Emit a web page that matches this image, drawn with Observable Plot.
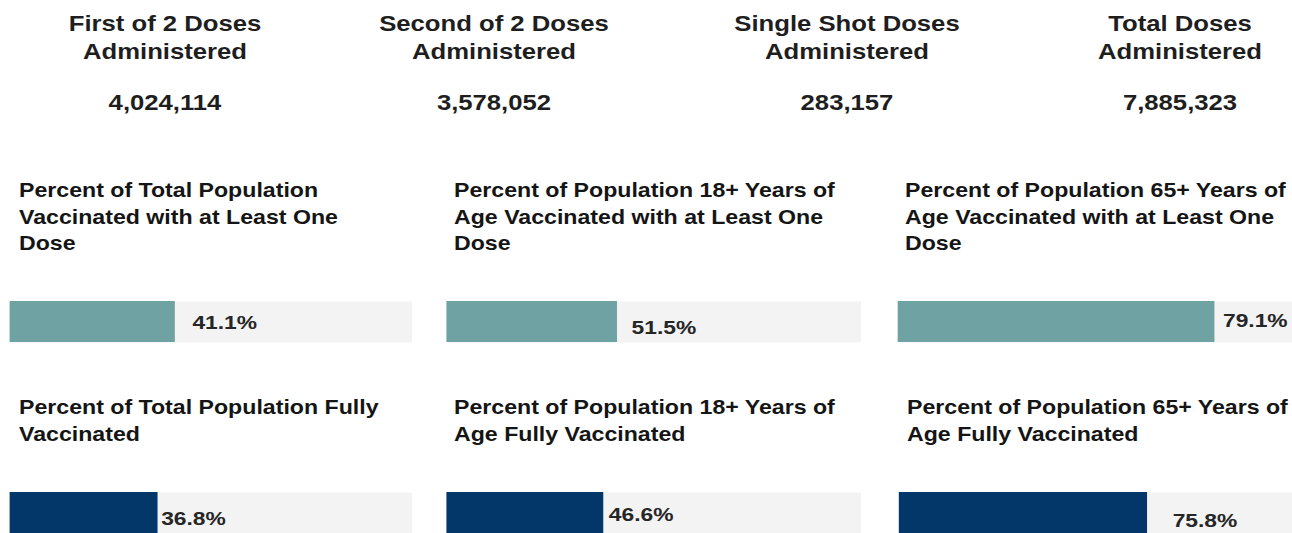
<!DOCTYPE html>
<html><head><meta charset="utf-8">
<script src="https://cdn.jsdelivr.net/npm/d3@7"></script>
<script src="https://cdn.jsdelivr.net/npm/@observablehq/plot@0.6"></script>
<style>
html,body{margin:0;padding:0;background:#fff;overflow:hidden;width:1292px;height:533px;}
#stage{position:absolute;left:0;top:0;width:1076.67px;height:533px;transform:scaleX(1.2);transform-origin:0 0;font-family:"Liberation Sans",Arial,sans-serif;}
.kpi{position:absolute;transform:translateX(-50%);text-align:center;font-weight:bold;font-size:21.4px;line-height:28px;color:#1e1e1e;white-space:pre;}
.ptitle{position:absolute;font-weight:bold;font-size:19.3px;line-height:26.5px;color:#151515;white-space:pre;}
.bar{position:absolute;}
.bar svg{display:block;overflow:visible;}
</style></head><body><div id="stage"></div>
<script>
// ---- data ----
const kpiTitles = ["First of 2 Doses\nAdministered", "Second of 2 Doses\nAdministered", "Single Shot Doses\nAdministered", "Total Doses\nAdministered"];
const kpiValues = [4024114, 3578052, 283157, 7885323];
const panelTitles = [
  "Percent of Total Population\nVaccinated with at Least One\nDose",
  "Percent of Population 18+ Years of\nAge Vaccinated with at Least One\nDose",
  "Percent of Population 65+ Years of\nAge Vaccinated with at Least One\nDose",
  "Percent of Total Population Fully\nVaccinated",
  "Percent of Population 18+ Years of\nAge Fully Vaccinated",
  "Percent of Population 65+ Years of\nAge Fully Vaccinated"
];
const doseStatus = ["At Least One Dose", "At Least One Dose", "At Least One Dose", "Fully Vaccinated", "Fully Vaccinated", "Fully Vaccinated"];
const percentValues = [41.1, 51.5, 79.1, 36.8, 46.6, 75.8];
const axisMax = [100, 125, 98.6, 100, 123, 120];

// ---- layout (page pixels) ----
const S = 1.2; // horizontal stretch of the stage
const kpiCenters = [165, 494, 847, 1180];
const titleLeft = [19, 454, 905, 19, 454, 907];
const titleTop = [178, 178, 178, 395, 395, 395];
const barLeft = [10, 446, 897, 10, 446, 899];
const barRight = [412, 860, 1292, 412, 860, 1292];
const barTop = [301, 301, 301, 492, 492, 492];
const labelDx = [17, 14, 8, 3, 5, 25];
const labelDy = [1, 6, -1, 6, 2, 8];
const statusColor = {"At Least One Dose": "#6fa2a2", "Fully Vaccinated": "#03376a"};

const stage = document.getElementById("stage");
const fmt = d3.format(",");

kpiTitles.forEach((t, i) => {
  const a = document.createElement("div");
  a.className = "kpi"; a.textContent = t;
  a.style.left = (kpiCenters[i] / S) + "px"; a.style.top = "10px";
  stage.appendChild(a);
  const b = document.createElement("div");
  b.className = "kpi"; b.textContent = fmt(kpiValues[i]);
  b.style.left = (kpiCenters[i] / S) + "px"; b.style.top = "89px";
  stage.appendChild(b);
});

panelTitles.forEach((t, i) => {
  const a = document.createElement("div");
  a.className = "ptitle"; a.textContent = t;
  a.style.left = (titleLeft[i] / S) + "px"; a.style.top = titleTop[i] + "px";
  stage.appendChild(a);

  const w = (barRight[i] - barLeft[i]) / S;
  const d = [{status: doseStatus[i], value: percentValues[i]}];
  const chart = Plot.plot({
    width: w, height: 41, margin: 0,
    x: {domain: [0, axisMax[i]], axis: null},
    y: {axis: null},
    color: {domain: Object.keys(statusColor), range: Object.values(statusColor)},
    style: {background: "transparent", overflow: "visible", fontFamily: "Liberation Sans, Arial, sans-serif"},
    marks: [
      Plot.frame({fill: "#f3f3f3", stroke: null}),
      Plot.barX(d, {x: "value", fill: "status"}),
      Plot.text(d, {x: "value", text: v => v.value.toFixed(1) + "%", textAnchor: "start",
        dx: labelDx[i] / S, dy: labelDy[i], fontSize: 19, fontWeight: "bold", fill: "#262626"})
    ]
  });
  const box = document.createElement("div");
  box.className = "bar";
  box.style.left = (barLeft[i] / S) + "px"; box.style.top = barTop[i] + "px";
  box.appendChild(chart);
  stage.appendChild(box);
});
</script></body></html>
